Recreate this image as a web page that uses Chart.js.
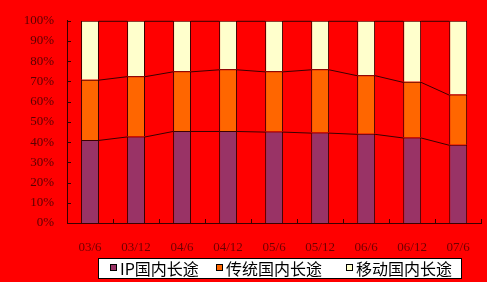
<!DOCTYPE html>
<html>
<head>
<meta charset="utf-8">
<script src="https://cdn.jsdelivr.net/npm/chart.js@4"></script>
<style>
  html, body { margin: 0; padding: 0; background: #ff0000; }
  #wrap { width: 487px; height: 282px; }
</style>
</head>
<body>
<div id="wrap"><canvas id="longDistChart"></canvas></div>
<script>
const periods = ['03/6', '03/12', '04/6', '04/12', '05/6', '05/12', '06/6', '06/12', '07/6'];
const ipShare = [41.1, 42.8, 45.5, 45.5, 45.2, 44.7, 44.1, 42.3, 38.7];
const fixedShare = [29.8, 29.8, 29.5, 30.5, 29.8, 31.3, 29.0, 27.5, 24.8];
const mobileShare = ipShare.map((v, i) => +(100 - v - fixedShare[i]).toFixed(1));
const seriesNames = ['IP国内长途', '传统国内长途', '移动国内长途'];
const seriesColors = ['#993366', '#ff6600', '#ffffcc'];

const LINE = '#3a0000';

// Excel-style series lines joining the top of each stack segment
const seriesLines = {
    id: 'seriesLines',
    afterDatasetsDraw(chart) {
        const ctx = chart.ctx;
        ctx.save();
        ctx.strokeStyle = LINE;
        ctx.lineWidth = 1;
        chart.data.datasets.forEach((ds, di) => {
            const bars = chart.getDatasetMeta(di).data;
            for (let i = 0; i < bars.length - 1; i++) {
                const a = bars[i], b = bars[i + 1];
                ctx.beginPath();
                ctx.moveTo(a.x + a.width / 2, a.y + 0.5);
                ctx.lineTo(b.x - b.width / 2, b.y + 0.5);
                ctx.stroke();
            }
        });
        ctx.restore();
    }
};

// tick marks pointing into the plot
const innerTicks = {
    id: 'innerTicks',
    afterDraw(chart) {
        const ctx = chart.ctx;
        const x = chart.scales.x, y = chart.scales.y;
        const area = chart.chartArea;
        ctx.save();
        ctx.strokeStyle = LINE;
        ctx.lineWidth = 1;
        ctx.beginPath();
        y.ticks.forEach(t => {
            const py = Math.round(y.getPixelForValue(t.value)) + 0.5;
            ctx.moveTo(area.left, py);
            ctx.lineTo(area.left + 4, py);
        });
        for (let i = 1; i <= periods.length; i++) {
            const px = Math.round(area.left + (area.right - area.left) * i / periods.length) + 0.5;
            ctx.moveTo(px, area.bottom);
            ctx.lineTo(px, area.bottom - 4);
        }
        ctx.stroke();
        ctx.restore();
    }
};

// boxed legend below the axis
const boxLegend = {
    id: 'boxLegend',
    afterDraw(chart) {
        const ctx = chart.ctx;
        ctx.save();
        ctx.fillStyle = '#ffffff';
        ctx.fillRect(98, 258, 364, 21);
        ctx.strokeStyle = '#000000';
        ctx.lineWidth = 1;
        ctx.strokeRect(98.5, 258.5, 363, 20);
        ctx.font = '16px "Noto Sans CJK SC"';
        ctx.textBaseline = 'middle';
        const starts = [110, 216, 346];
        chart.data.datasets.forEach((ds, i) => {
            const x0 = starts[i];
            ctx.fillStyle = ds.backgroundColor;
            ctx.fillRect(x0, 264, 7, 7);
            ctx.strokeStyle = '#000';
            ctx.strokeRect(x0 + 0.5, 264.5, 6, 6);
            ctx.fillStyle = '#000';
            ctx.fillText(ds.label, x0 + 10, 268.5);
        });
        ctx.restore();
    }
};

new Chart(document.getElementById('longDistChart'), {
    type: 'bar',
    data: {
        labels: periods,
        datasets: [ipShare, fixedShare, mobileShare].map((vals, i) => ({
            label: seriesNames[i],
            data: vals,
            backgroundColor: seriesColors[i],
            borderColor: LINE,
            borderWidth: 1,
            barPercentage: 0.39,
            categoryPercentage: 1
        }))
    },
    options: {
        responsive: true,
        maintainAspectRatio: false,
        animation: false,
        layout: { padding: { top: 19, right: 5, bottom: 29, left: 0 } },
        plugins: {
            legend: { display: false },
            tooltip: { enabled: false }
        },
        scales: {
            x: {
                stacked: true,
                grid: { display: false, drawTicks: false },
                border: { display: true, color: LINE },
                ticks: {
                    color: '#6e0000',
                    padding: 17,
                    maxRotation: 0,
                    font: { family: '"Liberation Serif"', size: 13 }
                },
                afterFit(scale) { scale.height = 30; }
            },
            y: {
                stacked: true,
                min: 0,
                max: 100,
                grid: { display: false, drawTicks: false },
                border: { display: true, color: LINE },
                ticks: {
                    stepSize: 10,
                    color: '#5a0000',
                    padding: 13,
                    font: { family: '"Liberation Serif"', size: 13 },
                    callback: v => v + '%'
                },
                afterFit(scale) { scale.width = 67; }
            }
        }
    },
    plugins: [seriesLines, innerTicks, boxLegend]
});
</script>
</body>
</html>
